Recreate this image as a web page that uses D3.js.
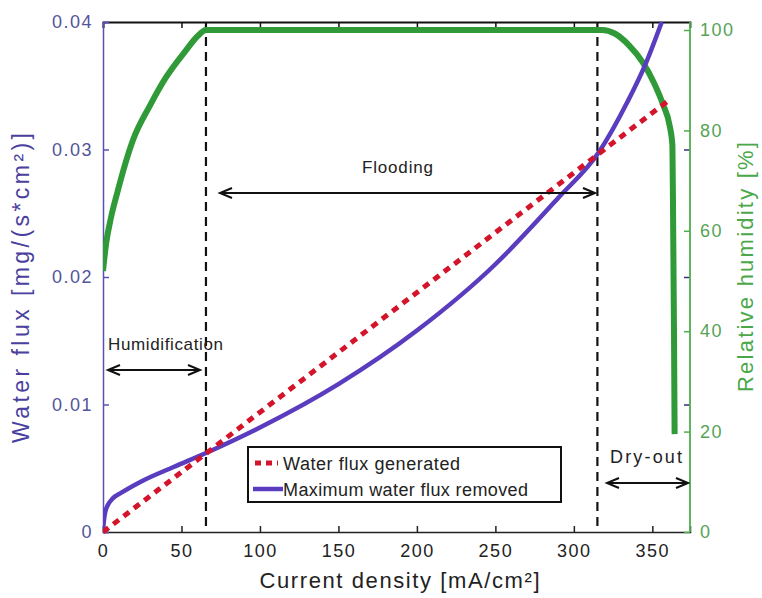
<!DOCTYPE html>
<html>
<head>
<meta charset="utf-8">
<script src="https://cdn.jsdelivr.net/npm/d3@7"></script>
<style>
  html, body { margin: 0; padding: 0; background: #fff; }
  svg text { font-family: "Liberation Sans", Arial, Helvetica, sans-serif; }
</style>
</head>
<body>
<svg id="chart" width="762" height="598"></svg>
<script>
// ---------------- data ----------------
const xTicks = [0, 50, 100, 150, 200, 250, 300, 350];
const fluxTicks = [0, 0.01, 0.02, 0.03, 0.04];
const fluxTickLabels = ["0", "0.01", "0.02", "0.03", "0.04"];
const rhTicks = [0, 20, 40, 60, 80, 100];

// Water flux generated (linear)
const currentGen = [0, 362];
const fluxGen = [0, 0.0340];

// Maximum water flux removed
const currentRem = [0, 0.5, 1.5, 3, 6, 12, 25, 45, 65.6, 100, 150, 200, 250, 290, 316, 334, 346, 356];
const fluxRem = [0, 0.0008, 0.0016, 0.0021, 0.0026, 0.0031, 0.0040, 0.0051, 0.0062, 0.0082, 0.0116, 0.0158, 0.0210, 0.0262, 0.0298, 0.0337, 0.0368, 0.0400];

// Relative humidity
const currentRH = [0, 2, 5, 9, 19, 30, 40, 53, 60, 65.6, 318, 326, 335, 344, 351, 357, 361, 362.8, 363.3, 363.8, 364.2];
const rh = [52, 57.5, 62.5, 67.5, 78, 85, 90.5, 96, 98.7, 100, 100, 99.3, 97, 93.5, 89.5, 85, 81, 77, 60, 40, 19.5];

// region boundaries
const boundaries = [65.6, 315];

const legendLabels = ["Water flux generated", "Maximum water flux removed"];

// ---------------- layout ----------------
const svg = d3.select("#chart");
const L = 103, R = 690, T = 22, B = 532;
const x = d3.scaleLinear().domain([0, 374]).range([L, R]);
const yL = d3.scaleLinear().domain([0, 0.04]).range([B, T]);
const yR = d3.scaleLinear().domain([0, 100]).range([B, 30]);

const cBlueAxis = "#5a4fb4";
const cBlueText = "#54549a";
const cGreenAxis = "#4cae4c";
const cGreenText = "#56a356";
const cBlue = "#5a3cbe";
const cGreen = "#2f9a37";
const cRed = "#d3142a";

// clip
svg.append("defs").append("clipPath").attr("id", "clip")
  .append("rect").attr("x", L).attr("y", T - 2).attr("width", R - L).attr("height", B - T + 4);

// ---------------- axes ----------------
const gx = svg.append("g").attr("transform", `translate(0,${B})`)
  .call(d3.axisBottom(x).tickValues(xTicks).tickSize(-6).tickPadding(12).tickFormat(d3.format("d")));
gx.select(".domain").attr("stroke", "#222").attr("stroke-width", 1.5);
gx.selectAll(".tick line").attr("stroke", "#222").attr("stroke-width", 1.5);
gx.selectAll(".tick text").attr("font-size", 18).attr("fill", "#222").attr("letter-spacing", 1.5);

const gxt = svg.append("g").attr("transform", `translate(0,${T})`)
  .call(d3.axisTop(x).tickValues(xTicks).tickSize(-6).tickFormat(""));
gxt.select(".domain").attr("stroke", "#111").attr("stroke-width", 1.8);
gxt.selectAll(".tick line").attr("stroke", "#111").attr("stroke-width", 1.5);

const gyl = svg.append("g").attr("transform", `translate(${L},0)`)
  .call(d3.axisLeft(yL).tickValues(fluxTicks).tickSize(-6).tickPadding(10)
    .tickFormat((d, i) => fluxTickLabels[i]));
gyl.select(".domain").attr("stroke", cBlueAxis).attr("stroke-width", 1.5);
gyl.selectAll(".tick line").attr("stroke", cBlueAxis).attr("stroke-width", 1.5);
gyl.selectAll(".tick text").attr("font-size", 18).attr("fill", cBlueText).attr("letter-spacing", 1.5);

const gylr = svg.append("g").attr("transform", `translate(${R},0)`)
  .call(d3.axisRight(yL).tickValues(fluxTicks.slice(1, 4)).tickSize(-6).tickFormat(""));
gylr.select(".domain").remove();
gylr.selectAll(".tick line").attr("stroke", "#3a2f80").attr("stroke-width", 1.5);

const gyr = svg.append("g").attr("transform", `translate(${R},0)`)
  .call(d3.axisRight(yR).tickValues(rhTicks).tickSize(-6).tickPadding(10).tickFormat(d3.format("d")));
gyr.select(".domain").attr("stroke", cGreenAxis).attr("stroke-width", 1.8)
  .attr("d", `M0,${T}V${B}`);
gyr.selectAll(".tick line").attr("stroke", cGreenAxis).attr("stroke-width", 1.5);
gyr.selectAll(".tick text").attr("font-size", 18).attr("fill", cGreenText).attr("letter-spacing", 1.5);

// axis titles
svg.append("text")
  .attr("transform", `translate(${L + (R - L) / 2 + 3},${588}) `)
  .attr("text-anchor", "middle").attr("font-size", 22).attr("fill", "#222")
  .attr("textLength", 280).attr("lengthAdjust", "spacing")
  .text("Current density [mA/cm²]");

svg.append("text")
  .attr("transform", `translate(29,${288}) rotate(-90)`)
  .attr("text-anchor", "middle").attr("font-size", 23).attr("fill", "#4a3f9e")
  .attr("textLength", 310).attr("lengthAdjust", "spacing")
  .text("Water flux [mg/(s*cm²)]");

svg.append("text")
  .attr("transform", `translate(753,${267}) rotate(-90)`)
  .attr("text-anchor", "middle").attr("font-size", 22).attr("fill", "#4aa84a")
  .attr("textLength", 250).attr("lengthAdjust", "spacing")
  .text("Relative humidity [%]");

// ---------------- plot content ----------------
const plot = svg.append("g").attr("clip-path", "url(#clip)");

plot.selectAll("line.bound").data(boundaries).enter().append("line")
  .attr("class", "bound")
  .attr("x1", d => x(d)).attr("x2", d => x(d))
  .attr("y1", yL(0.04)).attr("y2", yL(0))
  .attr("stroke", "#111").attr("stroke-width", 2.2).attr("stroke-dasharray", "9,6");

const rhData = currentRH.map((c, i) => [c, rh[i]]);
plot.append("path").datum(rhData)
  .attr("fill", "none").attr("stroke", cGreen).attr("stroke-width", 6)
  .attr("stroke-linejoin", "round")
  .attr("d", d3.line().x(d => x(d[0])).y(d => yR(d[1])).curve(d3.curveMonotoneX));

const remData = currentRem.map((c, i) => [c, fluxRem[i]]);
plot.append("path").datum(remData)
  .attr("fill", "none").attr("stroke", cBlue).attr("stroke-width", 4.5)
  .attr("d", d3.line().x(d => x(d[0])).y(d => yL(d[1])).curve(d3.curveMonotoneX));

const genData = currentGen.map((c, i) => [c, fluxGen[i]]);
plot.append("path").datum(genData)
  .attr("fill", "none").attr("stroke", cRed).attr("stroke-width", 5)
  .attr("stroke-dasharray", "7,6")
  .attr("d", d3.line().x(d => x(d[0])).y(d => yL(d[1])));

// ---------------- annotations ----------------
function dblArrow(x1, x2, y) {
  const g = svg.append("g").attr("stroke", "#111").attr("stroke-width", 2).attr("fill", "none");
  g.append("line").attr("x1", x1).attr("x2", x2).attr("y1", y).attr("y2", y);
  g.append("path").attr("d", `M${x1 + 12},${y - 5} L${x1},${y} L${x1 + 12},${y + 5}`);
  g.append("path").attr("d", `M${x2 - 12},${y - 5} L${x2},${y} L${x2 - 12},${y + 5}`);
}
dblArrow(108, 200, 370);
dblArrow(220, 595, 193);
dblArrow(607, 688, 483);

svg.append("text").attr("x", 108).attr("y", 350).attr("font-size", 17).attr("fill", "#222")
  .attr("textLength", 115).attr("lengthAdjust", "spacing").text("Humidification");
svg.append("text").attr("x", 362).attr("y", 173).attr("font-size", 17).attr("fill", "#222")
  .attr("textLength", 71).attr("lengthAdjust", "spacing").text("Flooding");
svg.append("text").attr("x", 610).attr("y", 463).attr("font-size", 18).attr("fill", "#222")
  .attr("textLength", 72).attr("lengthAdjust", "spacing").text("Dry-out");

// ---------------- legend ----------------
const lg = svg.append("g");
lg.append("rect").attr("x", 248).attr("y", 447).attr("width", 313).attr("height", 55)
  .attr("fill", "#fff").attr("stroke", "#111").attr("stroke-width", 2);
lg.append("line").attr("x1", 255).attr("x2", 278).attr("y1", 463).attr("y2", 463)
  .attr("stroke", cRed).attr("stroke-width", 5).attr("stroke-dasharray", "6,5");
lg.append("line").attr("x1", 253).attr("x2", 283).attr("y1", 489).attr("y2", 489)
  .attr("stroke", cBlue).attr("stroke-width", 4.5);
lg.append("text").attr("x", 283).attr("y", 469.5).attr("font-size", 18).attr("fill", "#222")
  .attr("textLength", 177).attr("lengthAdjust", "spacing").text(legendLabels[0]);
lg.append("text").attr("x", 283).attr("y", 495.5).attr("font-size", 18).attr("fill", "#222")
  .attr("textLength", 245).attr("lengthAdjust", "spacing").text(legendLabels[1]);
</script>
</body>
</html>
